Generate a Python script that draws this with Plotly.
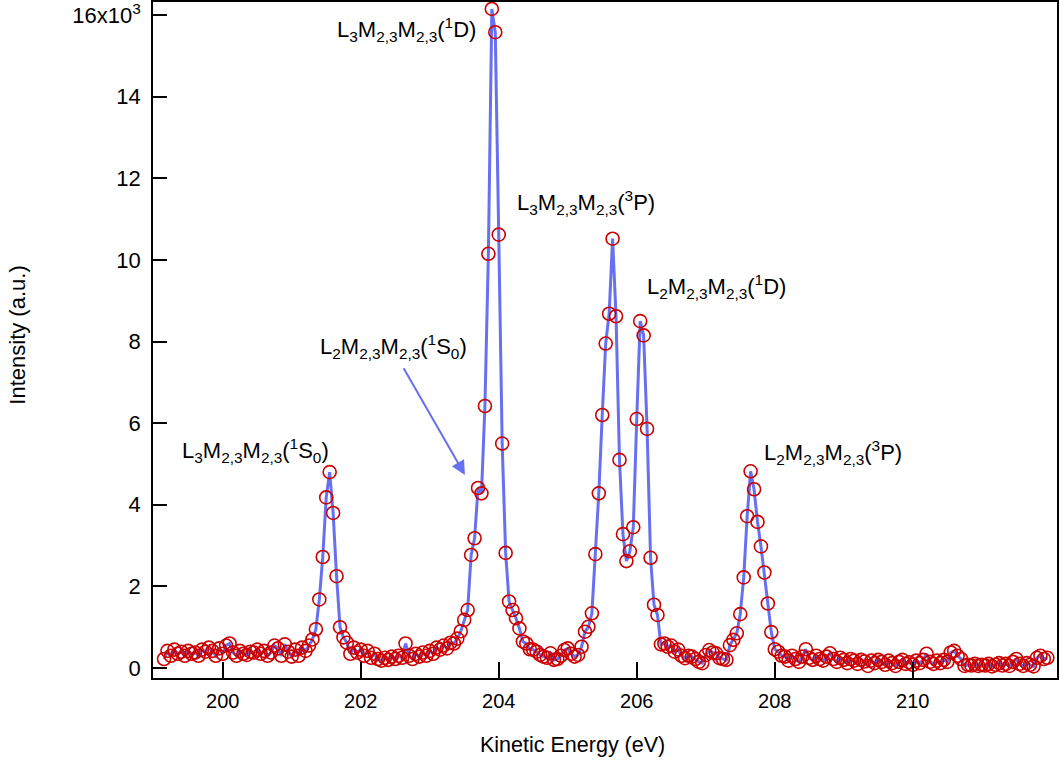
import plotly.graph_objects as go

# Kinetic energy grid (eV), 0.05 eV steps, and intensity in units of 10^3 counts
START_EV = 199.15
STEP_EV = 0.05

INTENSITY_K = [
    # 199.15 - 201.20
    0.22, 0.42, 0.30, 0.45, 0.35, 0.40, 0.30, 0.42, 0.35, 0.38,
    0.30, 0.45, 0.40, 0.50, 0.42, 0.30, 0.48, 0.35, 0.55, 0.60,
    0.38, 0.30, 0.42, 0.35, 0.32, 0.40, 0.38, 0.45, 0.35, 0.42,
    0.30, 0.38, 0.55, 0.48, 0.30, 0.58, 0.40, 0.28, 0.45, 0.30,
    0.50, 0.42,
    # 201.25 - 201.85 (L3 1S0)
    0.55, 0.70, 0.95, 1.68, 2.72, 4.18, 4.80, 3.80, 2.25, 1.00,
    0.75, 0.62, 0.35,
    # 201.90 - 203.30
    0.50, 0.38, 0.45, 0.30, 0.42, 0.25, 0.35, 0.22, 0.18, 0.25,
    0.20, 0.28, 0.22, 0.30, 0.25, 0.60, 0.30, 0.22, 0.35, 0.28,
    0.38, 0.30, 0.42, 0.35, 0.50, 0.45, 0.55, 0.48, 0.62,
    # 203.35 - 204.40 (L2 1S0 shoulder + L3 1D)
    0.60, 0.72, 0.90, 1.18, 1.42, 2.77, 3.18, 4.41, 4.28, 6.42,
    10.15, 16.15, 15.58, 10.62, 5.50, 2.82, 1.63, 1.42, 1.22, 0.97,
    0.65, 0.60,
    # 204.45 - 205.15
    0.46, 0.45, 0.40, 0.32, 0.28, 0.25, 0.36, 0.20, 0.22, 0.30,
    0.44, 0.48, 0.35, 0.28, 0.32,
    # 205.20 - 206.30 (L3 3P + L2 1D)
    0.52, 0.89, 1.01, 1.34, 2.79, 4.28, 6.20, 7.95, 8.68, 10.52,
    8.62, 5.10, 3.28, 2.62, 2.86, 3.45, 6.10, 8.50, 8.15, 5.86,
    2.70, 1.55, 1.30,
    # 206.35 - 207.25
    0.58, 0.60, 0.52, 0.55, 0.40, 0.45, 0.30, 0.24, 0.30, 0.28,
    0.22, 0.15, 0.12, 0.32, 0.44, 0.38, 0.36, 0.24, 0.22,
    # 207.30 - 208.00 (L2 3P)
    0.20, 0.56, 0.69, 0.85, 1.32, 2.22, 3.72, 4.82, 4.38, 3.58,
    2.98, 2.34, 1.58, 0.88, 0.46,
    # 208.05 - 211.95
    0.40, 0.30, 0.28, 0.18, 0.30, 0.22, 0.15, 0.28, 0.46, 0.25,
    0.20, 0.30, 0.22, 0.18, 0.28, 0.36, 0.22, 0.15, 0.25, 0.20,
    0.12, 0.22, 0.18, 0.10, 0.20, 0.16, 0.05, 0.18, 0.12, 0.20,
    0.15, 0.08, 0.18, 0.12, 0.05, 0.15, 0.20, 0.10, 0.14, 0.08,
    0.18, 0.12, 0.20, 0.35, 0.15, 0.10, 0.18, 0.12, 0.20, 0.15,
    0.38, 0.42, 0.30, 0.22, 0.05, 0.08, 0.06, 0.10, 0.05, 0.08,
    0.06, 0.10, 0.04, 0.08, 0.12, 0.06, 0.10, 0.05, 0.15, 0.22,
    0.10, 0.05, 0.12, 0.08, 0.04, 0.25, 0.30, 0.22, 0.25,
]

ENERGY_EV = [round(START_EV + STEP_EV * i, 3) for i in range(len(INTENSITY_K))]

Y_TICKS = [0, 2, 4, 6, 8, 10, 12, 14, 16]
Y_TICK_TEXT = ["0", "2", "4", "6", "8", "10", "12", "14", "16x10<sup>3</sup>"]
X_TICKS = [200, 202, 204, 206, 208, 210]

# peak labels: (text, x, y) with x = left edge of the label
PEAK_LABELS = [
    ("L<sub>3</sub>M<sub>2,3</sub>M<sub>2,3</sub>(<sup>1</sup>D)", 201.63, 15.64),
    ("L<sub>3</sub>M<sub>2,3</sub>M<sub>2,3</sub>(<sup>3</sup>P)", 204.24, 11.40),
    ("L<sub>2</sub>M<sub>2,3</sub>M<sub>2,3</sub>(<sup>1</sup>D)", 206.12, 9.34),
    ("L<sub>2</sub>M<sub>2,3</sub>M<sub>2,3</sub>(<sup>1</sup>S<sub>0</sub>)", 201.38, 7.87),
    ("L<sub>3</sub>M<sub>2,3</sub>M<sub>2,3</sub>(<sup>1</sup>S<sub>0</sub>)", 199.38, 5.34),
    ("L<sub>2</sub>M<sub>2,3</sub>M<sub>2,3</sub>(<sup>3</sup>P)", 207.82, 5.29),
]
ARROW_TAIL = (202.61, 7.38)
ARROW_TIP = (203.51, 4.73)

LINE_BLUE = "#6670f0"
MARKER_RED = "#cc0000"
FONT = "Liberation Sans, Arial, Helvetica, sans-serif"

fig = go.Figure()
fig.add_trace(
    go.Scatter(
        x=ENERGY_EV,
        y=INTENSITY_K,
        mode="lines",
        line=dict(color=LINE_BLUE, width=3),
        showlegend=False,
        hoverinfo="skip",
    )
)
fig.add_trace(
    go.Scatter(
        x=ENERGY_EV,
        y=INTENSITY_K,
        mode="markers",
        marker=dict(symbol="circle-open", size=13, color=MARKER_RED, line=dict(width=1.6, color=MARKER_RED)),
        showlegend=False,
    )
)

for text, x, y in PEAK_LABELS:
    fig.add_annotation(
        x=x, y=y, text=text, showarrow=False, xanchor="left", yanchor="middle",
        font=dict(family=FONT, size=22, color="black"),
    )

fig.add_annotation(
    x=ARROW_TIP[0], y=ARROW_TIP[1], ax=ARROW_TAIL[0], ay=ARROW_TAIL[1],
    axref="x", ayref="y", text="", showarrow=True,
    arrowhead=2, arrowsize=1.4, arrowwidth=2, arrowcolor=LINE_BLUE,
)

# axis titles (placed as annotations, the x title sits left of centre)
fig.add_annotation(
    x=0.4646, y=-0.099, xref="paper", yref="paper", text="Kinetic Energy (eV)",
    showarrow=False, xanchor="center", yanchor="middle",
    font=dict(family=FONT, size=21.5, color="black"),
)
fig.add_annotation(
    x=-0.150, y=0.507, xref="paper", yref="paper", text="Intensity (a.u.)",
    showarrow=False, xanchor="center", yanchor="middle", textangle=-90,
    font=dict(family=FONT, size=22, color="black"),
)

fig.update_layout(
    width=1059,
    height=767,
    margin=dict(l=153, r=2, t=2, b=89),
    paper_bgcolor="white",
    plot_bgcolor="white",
    font=dict(family=FONT, size=18, color="black"),
    xaxis=dict(
        range=[198.99, 212.09],
        tickvals=X_TICKS,
        ticks="inside",
        ticklen=16,
        tickwidth=1.5,
        tickcolor="black",
        ticklabelstandoff=4,
        showline=True,
        linecolor="black",
        linewidth=1.5,
        mirror=True,
        showgrid=False,
        zeroline=False,
        automargin=False,
        tickfont=dict(size=20),
    ),
    yaxis=dict(
        range=[-0.245, 16.32],
        tickvals=Y_TICKS,
        ticktext=Y_TICK_TEXT,
        ticks="inside",
        ticklen=14,
        tickwidth=1.5,
        tickcolor="black",
        ticklabelstandoff=6,
        ticklabeloverflow="allow",
        showline=True,
        linecolor="black",
        linewidth=1.5,
        mirror=True,
        showgrid=False,
        zeroline=False,
        automargin=False,
        tickfont=dict(size=22),
    ),
)

fig.write_html(
    "out.html",
    config={"displayModeBar": False},
    post_script="document.body.style.margin='0';",
)
